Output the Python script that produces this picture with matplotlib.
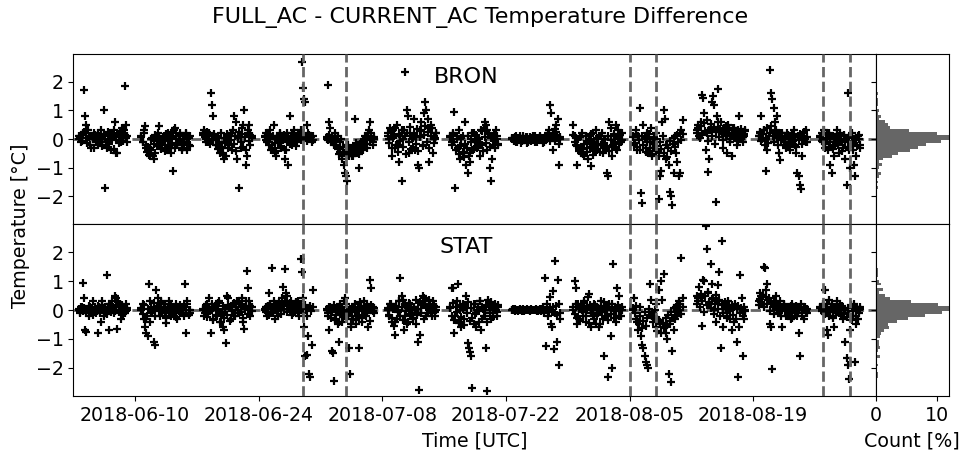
import matplotlib
matplotlib.use("Agg")
import matplotlib.pyplot as plt
import matplotlib.dates as mdates
import numpy as np
import pandas as pd

plt.rcParams.update({'font.size': 13.7})

# start of each measurement week and its length in hours
week_start = ['2018-06-03 15:00', '2018-06-10 17:00', '2018-06-17 17:00', '2018-06-24 17:00',
              '2018-07-01 17:00', '2018-07-08 15:00', '2018-07-15 17:00', '2018-07-22 17:00',
              '2018-07-29 15:00', '2018-08-05 10:00', '2018-08-12 15:00', '2018-08-19 15:00',
              '2018-08-26 15:00']
week_hours = [132, 132, 132, 130, 128, 132, 130, 130, 132, 134, 132, 132, 108]

# FULL_AC - CURRENT_AC, BRON (hourly-ish samples incl. outliers)
bron = [
    [0.0, 0.1, -0.1, 0.2, 1.7, 0.8, 0.5, 0.3, 0.1, -0.2, -0.3, 0.0, 0.2, 0.1, -0.1, -0.2, 0.0, 0.1, 0.3, -0.1,
     1.0, -1.7, -0.2, -0.3, 0.2, 0.1, -0.4, 0.0, 0.3, 0.6, -0.5, -0.5, 0.1, 0.2, -0.1, 0.4, 0.3, 1.85, 0.5, 0.1],
    [0.1, -0.1, 0.3, 0.45, -0.2, -0.4, -0.55, -0.3, 0.0, -0.6, -0.7, -0.5, 0.1, 0.2, 0.45, -0.1, -0.3, 0.0, 0.1, -0.2,
     -0.4, 0.2, 0.0, -0.3, -0.5, -1.1, 0.3, 0.4, 0.0, -0.2, 0.1, 0.2, -0.1, -0.3, 0.0, 0.1, 0.2, -0.4, -0.2, 0.1],
    [0.2, 0.3, 0.0, 0.1, -0.1, 0.2, 1.6, 1.2, 0.8, 0.1, 0.0, -0.2, 0.1, -0.1, 0.2, -0.3, -0.5, -0.7, -0.6, 0.0,
     0.1, -0.2, 0.2, -0.4, 0.3, 0.8, 0.6, -0.7, 0.1, -1.7, -0.3, 0.4, 0.5, 1.0, -0.9, -0.6, 0.3, 0.5, -0.2, 0.1],
    [0.1, 0.2, -0.1, 0.0, 0.3, -0.4, -0.2, 0.5, -0.5, -0.6, 0.1, -0.1, 0.2, -0.3, 0.0, 0.1, -0.7, -0.4, 0.2, -0.9,
     0.8, 0.0, -0.2, 0.1, 0.3, 0.0, -0.1, 0.2, 0.1, 0.3, 2.7, 1.8, 1.4, 1.3, 0.5, 0.2, 0.0, 0.1, -0.1, 0.1],
    [0.0, 1.9, 0.6, 0.4, 0.1, -0.1, 0.0, 0.2, -0.2, 0.1, -0.3, -0.1, 0.0, -0.7, -0.9, -1.2, -1.3, -1.45, -0.6, -0.4,
     -0.5, -0.3, -0.6, 0.7, -0.4, -0.2, -0.5, -1.0, -0.3, -0.1, -0.4, 0.0, 0.1, -0.3, 0.2, 0.3, 0.6, 0.1, -0.2, 0.0],
    [0.2, 0.0, 0.4, -0.6, 0.3, 0.1, -0.3, 0.5, -0.2, -0.8, 0.1, -1.45, 0.0, 0.3, 2.35, 1.0, 0.8, -0.5, 0.2, 0.0,
     -0.3, 0.7, -0.4, 0.1, -0.9, -1.0, 0.3, 0.6, -0.2, 0.9, 1.3, 1.0, 0.7, -0.8, 0.4, 0.5, -0.5, 0.1, 0.0, 0.2],
    [0.1, -0.1, 0.2, 0.95, -1.7, 0.0, -0.3, 0.3, -0.7, -0.2, 0.1, -0.5, 0.6, -0.9, -1.2, -0.6, -0.8, 0.0, -0.4, 0.2,
     -0.1, 0.1, -0.3, 0.0, -0.6, 0.3, -0.2, 0.4, 0.6, 0.5, -0.4, 0.2, -1.0, -1.45, -0.7, 0.1, -0.3, 0.3, 0.0, -0.2],
    [0.0, 0.05, -0.05, 0.1, -0.1, 0.0, 0.05, -0.15, 0.0, 0.1, -0.05, 0.0, 0.08, -0.1, 0.0, 0.05, -0.05, 0.1, 0.0, -0.1,
     0.05, 0.0, -0.05, 0.1, 0.0, -0.15, 0.05, 0.0, 0.1, 0.2, 0.3, 1.2, 0.9, -0.4, 0.1, 0.35, 0.5, 0.7, -0.9, 0.0],
    [0.5, 0.1, -0.2, -0.9, 0.0, -0.4, -0.5, 0.2, -0.3, -0.6, 0.1, -0.1, -0.7, 0.0, -0.95, -0.3, 0.2, -0.1, 0.3, -0.4,
     0.0, 0.1, -0.2, 0.2, -0.5, 0.0, -0.3, -1.2, -1.3, 0.6, 0.4, -0.6, -0.2, 0.1, 0.5, -0.4, 0.3, 0.0, -0.1, 0.2],
    [0.1, -0.2, 0.3, -0.4, 0.1, 1.1, -1.9, -2.25, 0.5, 0.0, -0.3, 0.2, -0.5, -0.1, 0.4, -0.6, -0.3, 0.0, 0.2, -0.4,
     -2.1, -1.3, -1.1, 0.6, 1.0, 0.7, -0.7, -0.2, -0.9, -1.85, -2.0, -2.3, -1.2, 0.1, -0.5, -0.8, -1.3, -1.2, 0.3, 0.65],
    [0.3, 0.5, 0.1, 0.6, 1.55, 1.45, 0.9, -0.4, 0.2, -1.15, -0.7, 0.4, 1.3, 1.5, 1.2, -2.2, 0.8, 1.75, 0.3, 0.6,
     0.2, -0.3, 0.4, 0.1, -0.5, 0.5, 0.3, 0.0, -0.6, 0.2, 0.4, 0.1, -0.2, 0.3, 0.8, 0.0, 0.2, -0.1, 0.1, 0.3],
    [0.1, 0.2, 0.8, 0.0, 0.3, -0.2, -1.1, -0.4, 0.1, 2.4, 1.6, 1.4, 1.1, 0.6, 0.3, 0.8, -0.5, -0.75, 0.2, 0.0,
     -0.2, 0.1, -0.3, 0.2, 0.0, -0.4, 0.1, -0.1, 0.3, -0.2, -0.5, -1.2, -1.3, -1.6, -1.75, -0.6, 0.2, 0.0, 0.3, -0.1],
    [0.1, 0.2, -0.1, 0.3, -0.3, 0.0, -0.4, 0.2, -0.9, -1.2, 0.1, -0.6, -0.2, 0.3, 0.0, -0.5, 0.2, -0.1, -0.3, 0.1,
     -0.7, -1.6, 1.6, -0.4, -1.0, 0.2, -0.2, -0.9, -1.3, -0.6, 0.1, 0.0, -0.2],
]
# BRON, the dense band of each week
bron_core = [
    [0.12, 0.05, -0.08, 0.18, 0.25, 0.02, -0.15, 0.08, -0.22, 0.11, 0.03, -0.31, 0.14, -0.05, 0.21, -0.12, 0.07, -0.26,
     0.16, 0.01, -0.09, 0.23, -0.18, 0.04, 0.13, -0.34, 0.09, -0.02, 0.19, -0.14, 0.27, 0.06, -0.07, 0.15, 0.02, -0.11],
    [0.08, -0.12, 0.21, -0.33, -0.46, -0.28, -0.58, -0.39, 0.04, -0.17, 0.15, -0.24, -0.06, 0.11, -0.35, -0.19, 0.02, -0.41,
     0.17, -0.08, -0.27, 0.06, -0.14, 0.24, -0.31, 0.09, -0.21, -0.03, 0.13, -0.37, 0.01, -0.16, 0.19, -0.09, 0.05, -0.26],
    [0.14, 0.06, -0.09, 0.23, 0.01, -0.16, 0.11, -0.04, 0.18, -0.22, 0.07, -0.35, -0.48, -0.27, -0.56, 0.03, -0.13, 0.16,
     -0.31, 0.09, -0.05, 0.21, -0.19, 0.12, -0.42, 0.04, 0.26, -0.11, 0.17, -0.28, 0.08, -0.38, 0.22, -0.07, 0.15, 0.02],
    [0.07, -0.05, 0.16, -0.21, 0.02, -0.32, 0.11, -0.14, -0.41, 0.05, -0.08, 0.19, -0.26, -0.02, 0.13, -0.37, -0.11, 0.08,
     -0.18, 0.03, 0.21, -0.06, 0.12, -0.24, 0.06, 0.15, -0.03, 0.09, 0.17, 0.04, 0.11, -0.07, 0.14, 0.02, 0.08, -0.04],
    [0.06, -0.04, 0.14, -0.12, 0.03, -0.21, 0.09, -0.08, -0.36, -0.52, -0.44, -0.61, -0.29, -0.48, -0.38, -0.55, -0.22, -0.41,
     -0.33, -0.58, -0.27, -0.46, -0.14, -0.35, -0.51, -0.19, -0.31, -0.07, -0.24, 0.04, -0.16, 0.12, -0.02, 0.21, -0.11, 0.08],
    [0.11, -0.14, 0.26, -0.32, 0.04, 0.38, -0.21, -0.45, 0.17, -0.06, 0.31, -0.27, 0.09, -0.52, 0.22, -0.11, 0.43, -0.36,
     0.02, 0.19, -0.18, 0.35, -0.41, 0.07, 0.28, -0.24, 0.14, 0.47, -0.09, 0.24, -0.33, 0.12, 0.39, -0.15, 0.05, 0.21],
    [0.06, -0.21, 0.18, -0.09, -0.38, 0.12, -0.52, -0.26, 0.03, -0.44, -0.63, -0.17, -0.31, 0.09, -0.48, -0.12, 0.21, -0.36,
     -0.05, 0.14, -0.27, 0.02, -0.19, 0.27, -0.41, 0.08, -0.14, 0.33, 0.16, -0.29, 0.04, -0.22, 0.19, -0.08, 0.11, -0.16],
    [0.03, -0.06, 0.07, -0.11, 0.02, -0.04, 0.09, -0.08, 0.05, -0.02, 0.06, -0.13, 0.01, 0.08, -0.07, 0.04, -0.03, 0.1,
     -0.09, 0.02, 0.06, -0.05, 0.03, -0.12, 0.07, -0.01, 0.04, 0.09, -0.06, 0.12, 0.18, -0.08, 0.24, 0.15, -0.17, 0.06],
    [0.14, -0.11, 0.03, -0.26, -0.42, 0.08, -0.34, -0.52, -0.18, 0.11, -0.47, -0.07, -0.29, 0.16, -0.56, -0.13, -0.38, 0.04,
     -0.22, -0.45, 0.09, -0.16, -0.33, 0.01, -0.24, 0.12, -0.41, -0.05, -0.28, 0.19, -0.12, -0.36, 0.07, -0.19, 0.13, -0.04],
    [0.08, -0.13, 0.19, -0.27, -0.04, -0.38, 0.12, -0.21, 0.02, -0.46, -0.09, 0.16, -0.31, -0.52, -0.17, 0.06, -0.41, -0.26,
     -0.58, -0.12, -0.35, 0.09, -0.48, -0.22, -0.63, -0.31, -0.08, -0.43, -0.18, 0.04, -0.27, 0.13, -0.11, 0.21, -0.03, 0.17],
    [0.21, 0.38, 0.05, 0.46, 0.14, 0.57, 0.29, 0.66, -0.08, 0.33, 0.52, 0.11, 0.42, -0.16, 0.24, 0.61, 0.07, 0.36,
     0.18, -0.04, 0.27, 0.45, 0.09, 0.31, -0.12, 0.19, 0.38, 0.02, 0.26, 0.13, -0.07, 0.22, 0.34, 0.06, 0.16, 0.28],
    [0.09, 0.24, -0.06, 0.17, 0.31, 0.02, 0.38, -0.14, 0.21, 0.46, 0.11, -0.09, 0.27, 0.04, -0.21, 0.15, -0.03, 0.22,
     -0.12, 0.08, -0.26, 0.13, 0.01, -0.17, 0.19, -0.07, 0.06, -0.29, 0.11, -0.04, 0.16, -0.19, 0.03, 0.24, -0.11, 0.07],
    [0.08, -0.06, 0.16, -0.18, 0.03, 0.21, -0.27, -0.09, 0.12, -0.34, 0.05, -0.14, 0.18, -0.22, -0.03, 0.09, -0.41, 0.14,
     -0.11, 0.02, -0.29, 0.07, -0.16, 0.11, -0.37, -0.05, 0.04, -0.23, 0.13, -0.31],
]

# FULL_AC - CURRENT_AC, STAT
stat = [
    [0.0, -0.1, 0.1, 0.95, 0.4, -0.7, -0.75, 0.0, -0.2, 0.1, -0.1, 0.3, 0.0, 0.05, -0.1, -0.8, 0.1, 0.0, -0.4, 0.3,
     -0.2, 0.1, 0.0, 1.2, -0.7, 0.2, 0.1, 0.3, -0.1, 0.5, 0.4, -0.65, 0.0, 0.2, -0.3, 0.1, 0.0, -0.1, 0.2, 0.0],
    [0.0, 0.2, -0.3, -0.6, -0.8, -0.9, 0.9, 0.3, -0.1, 0.0, -1.1, -1.2, 0.7, 0.4, 0.1, -0.2, 0.3, 0.0, 0.2, -0.1,
     -0.45, 0.1, 0.3, 0.0, -0.2, 0.1, -0.1, 0.0, 0.2, -0.3, 0.1, -0.1, 0.0, 0.1, -0.2, 0.9, -0.8, 0.3, 0.0, -0.1],
    [0.0, -0.2, 0.1, 0.2, -0.1, 0.4, -0.8, 0.0, -0.3, 0.1, 0.2, -0.2, 0.0, 0.3, -0.4, -0.1, -0.6, -0.7, -1.15, 0.5,
     0.4, 0.1, -0.3, 0.0, 0.2, -0.2, 0.1, 0.3, 0.0, -0.1, 0.2, 0.4, -0.4, -0.65, 0.1, 1.35, 0.75, 0.3, -0.2, 0.1],
    [0.0, 0.1, -0.2, 0.6, 0.2, -0.1, 1.45, 0.3, -0.3, 0.0, 0.1, -0.2, 0.2, 0.0, 0.4, 0.8, 1.4, 0.6, 0.5, 0.2,
     0.1, 0.3, 0.0, -0.1, 0.2, 0.1, 0.0, 0.3, -0.2, 1.75, 1.3, 0.4, -0.6, -1.6, -1.55, -0.9, -2.2, -2.3, -1.2, 0.7],
    [0.0, -0.2, -0.7, 0.1, -1.4, -1.5, -2.45, -0.3, 0.0, -0.5, -1.1, 0.2, -0.1, -0.4, 0.3, 0.4, -0.2, 0.0, -1.3, -2.2,
     -0.6, 0.1, -0.3, 0.2, -0.5, 0.0, -0.2, -1.3, 0.1, -0.4, 0.0, 0.3, -0.1, 0.2, -0.6, 0.0, 1.05, 0.75, 0.1, -0.1],
    [0.0, -0.2, 0.2, -0.4, 0.1, -0.55, -0.85, -0.3, 0.0, 0.3, 1.1, 0.5, 0.35, -0.7, -0.2, 0.1, -0.4, 0.0, 0.2, -0.1,
     -0.3, 0.1, 0.0, -0.5, -1.1, -2.75, -0.85, 0.2, 0.5, 0.4, 0.3, -0.2, 0.1, 0.0, 0.2, -0.1, 0.3, 0.1, -0.2, 0.0],
    [0.1, 0.75, 0.75, -0.8, -0.2, 0.3, 0.9, -0.4, 0.0, -0.6, 0.2, -0.3, 0.1, 0.5, -1.15, -1.3, -1.45, -1.6, -2.7, -0.5,
     0.2, -0.1, 0.0, -0.4, 0.3, -0.7, 0.1, -0.2, 0.0, -1.3, -2.8, 0.35, 0.2, -0.3, 0.1, -0.1, 0.2, 0.0, -0.2, 0.1],
    [0.0, 0.02, -0.02, 0.0, 0.01, -0.01, 0.0, 0.02, -0.02, 0.0, 0.01, 0.0, -0.01, 0.02, 0.0, -0.02, 0.0, 0.01, -0.01, 0.0,
     0.02, 0.0, -0.03, 0.0, 0.05, -0.05, 0.1, -0.1, 1.1, -1.25, 0.2, -0.2, 0.45, -0.5, -0.6, 0.65, -1.35, 1.7, -1.1, 1.05,
     -1.9, -0.3],
    [0.0, 1.0, 0.75, -0.5, 0.2, -0.3, 0.1, 0.0, -0.2, 0.3, -0.4, 0.1, 0.45, 0.55, -0.6, 0.0, -0.2, 0.2, -0.5, 0.1,
     -0.1, -0.6, 0.3, 0.0, -0.3, -1.6, 0.1, -0.2, -2.3, 0.2, -0.9, -2.0, 1.6, 0.0, -0.4, 0.75, 0.1, 0.5, -0.2, 0.0],
    [0.0, 0.4, -0.3, -0.4, -0.7, 0.1, -0.9, -1.2, -1.3, -1.6, -1.8, -1.9, -2.0, 0.9, 0.35, -0.2, -0.1, 0.0, 0.2, -0.3,
     0.7, -0.4, 1.0, 0.35, 1.25, -0.6, -0.8, -1.0, -2.2, -0.5, -2.5, -1.4, -0.7, -0.3, 0.1, -0.2, 0.3, 0.0, 1.8, 0.4],
    [0.5, 0.3, 0.8, 0.4, -0.55, 1.05, 1.0, 2.9, 2.1, 0.6, 0.2, 1.6, 0.9, 0.4, 0.0, -0.4, 0.3, 0.88, 1.3, -1.3,
     2.4, -0.6, 0.2, 0.1, -0.2, 0.3, 0.0, -0.3, -0.7, 0.1, -0.4, 0.2, -1.1, -2.3, -0.6, 1.2, 0.4, -1.6, -0.3, 0.0],
    [0.3, 0.6, 0.5, 0.2, 1.5, 1.45, 0.7, 0.9, 0.4, -0.5, -0.6, -2.05, 0.3, 0.1, 0.5, 0.2, -0.1, 0.3, 0.0, -0.6,
     0.2, 0.1, -0.2, 0.0, 0.1, -0.1, -0.3, 0.2, 0.0, -0.1, 0.1, -0.2, -0.8, -1.6, 0.2, 0.0, -0.3, 0.1, 0.0, -0.1],
    [0.1, 0.0, 0.2, -0.1, 0.7, -0.7, -0.85, 0.35, 0.0, 0.2, -0.2, -0.6, 0.1, 0.3, 0.0, -0.1, 0.2, 0.1, -0.3, 0.0,
     -1.1, -1.65, -1.9, -2.4, -0.7, 0.1, -0.2, 0.2, -1.8, -0.5, -0.3, 0.0, 0.1],
]
# STAT, the dense band of each week
stat_core = [
    [0.04, -0.07, 0.11, -0.03, 0.08, -0.12, 0.02, 0.15, -0.09, 0.06, -0.16, 0.01, 0.09, -0.05, 0.13, -0.11, 0.03, 0.18,
     -0.02, 0.07, -0.14, 0.05, 0.22, -0.08, 0.12, 0.01, -0.04, 0.16, 0.27, -0.06, 0.09, 0.19, -0.13, 0.04, -0.02, 0.08],
    [0.06, -0.14, 0.18, -0.31, -0.22, 0.03, -0.41, 0.12, -0.08, 0.24, -0.19, 0.07, 0.15, -0.04, 0.29, -0.11, 0.02, 0.21,
     -0.26, 0.09, -0.06, 0.17, -0.15, 0.04, 0.11, -0.23, 0.08, -0.02, 0.19, -0.12, 0.05, 0.13, -0.09, 0.22, -0.17, 0.01],
    [0.03, -0.12, 0.16, -0.24, 0.07, -0.05, 0.21, -0.33, 0.11, -0.18, 0.02, 0.25, -0.41, -0.08, 0.14, -0.29, 0.05, -0.16,
     0.19, -0.37, 0.09, -0.03, 0.23, -0.21, 0.12, -0.11, 0.28, -0.06, 0.17, -0.27, 0.04, 0.31, -0.14, 0.08, 0.15, -0.02],
    [0.05, -0.08, 0.13, -0.16, 0.21, 0.02, -0.11, 0.17, 0.08, -0.04, 0.26, 0.11, -0.13, 0.19, 0.04, 0.31, -0.07, 0.14,
     0.23, 0.01, -0.18, 0.09, 0.16, 0.27, -0.05, 0.12, 0.22, 0.06, -0.09, 0.18, 0.03, -0.21, 0.08, 0.14, -0.03, 0.1],
    [0.04, -0.12, 0.09, -0.27, -0.06, 0.16, -0.35, -0.18, 0.07, -0.42, -0.09, 0.12, -0.24, -0.03, 0.21, -0.31, -0.14, 0.05,
     -0.47, -0.21, 0.11, -0.08, -0.36, 0.02, -0.17, 0.26, -0.29, -0.05, 0.13, -0.22, -0.11, 0.08, -0.38, 0.17, -0.02, 0.06],
    [0.07, -0.16, 0.22, -0.29, 0.03, -0.42, 0.14, -0.08, 0.31, -0.21, 0.09, -0.35, 0.18, -0.04, -0.47, 0.25, -0.13, 0.05,
     -0.26, 0.12, 0.36, -0.18, 0.02, 0.27, -0.09, 0.16, -0.31, 0.21, 0.08, -0.12, 0.33, 0.04, -0.22, 0.15, -0.06, 0.11],
    [0.08, -0.19, 0.24, -0.34, 0.12, -0.07, -0.46, 0.18, -0.23, 0.03, -0.52, 0.15, -0.11, 0.29, -0.38, 0.06, -0.27, 0.21,
     -0.14, -0.58, 0.11, -0.04, 0.32, -0.31, 0.02, -0.21, 0.17, -0.43, 0.09, -0.12, 0.26, -0.25, 0.04, 0.14, -0.08, 0.19],
    [0.01, -0.01, 0.02, 0.0, -0.02, 0.01, 0.0, -0.01, 0.02, -0.02, 0.01, 0.0, -0.01, 0.01, 0.02, -0.01, 0.0, 0.01,
     -0.02, 0.0, 0.01, -0.01, 0.02, 0.0, -0.01, 0.01, 0.0, -0.03, 0.04, -0.06, 0.09, -0.12, 0.14, -0.18, 0.22, -0.09],
    [0.09, -0.14, 0.21, -0.27, 0.04, -0.38, 0.13, -0.06, 0.25, -0.21, 0.08, -0.44, 0.17, -0.11, 0.02, -0.32, 0.19, -0.17,
     0.06, -0.49, 0.14, -0.08, 0.27, -0.24, 0.03, -0.36, 0.11, -0.13, 0.22, -0.29, 0.07, -0.04, 0.16, -0.19, 0.05, 0.12],
    [0.06, -0.12, 0.14, -0.31, -0.48, -0.21, -0.62, -0.37, -0.08, -0.54, -0.26, 0.04, -0.16, -0.09, -0.41, -0.28, -0.58, -0.72,
     -0.35, -0.49, -0.81, -0.44, -0.63, -0.27, -0.52, -0.18, -0.38, -0.07, -0.29, 0.08, -0.19, 0.16, -0.06, 0.22, -0.13, 0.11],
    [0.21, 0.43, 0.12, 0.55, 0.31, -0.06, 0.47, 0.18, 0.62, 0.26, 0.08, 0.39, -0.14, 0.22, 0.51, 0.03, 0.34, -0.21,
     0.16, -0.09, 0.28, 0.05, -0.26, 0.13, -0.04, 0.19, -0.17, 0.09, -0.31, 0.02, 0.14, -0.11, 0.07, -0.22, 0.11, -0.03],
    [0.16, 0.38, 0.27, 0.52, 0.09, 0.44, 0.21, 0.33, -0.05, 0.26, 0.12, -0.14, 0.19, 0.03, -0.09, 0.14, -0.21, 0.07,
     0.18, -0.04, 0.11, -0.16, 0.02, 0.13, -0.27, 0.06, -0.08, 0.15, -0.12, 0.04, 0.09, -0.19, 0.01, 0.12, -0.06, 0.03],
    [0.07, -0.05, 0.15, -0.14, 0.02, 0.22, -0.21, -0.07, 0.11, -0.28, 0.04, -0.12, 0.17, -0.03, 0.08, -0.18, 0.13, -0.09,
     0.01, -0.24, 0.06, -0.15, 0.19, -0.33, -0.04, 0.09, -0.19, 0.03, -0.11, 0.05],
]

event_dates = ['2018-06-29 00:00', '2018-07-03 22:00', '2018-08-05 00:00', '2018-08-08 01:00',
               '2018-08-26 22:00', '2018-08-29 22:00']
tick_dates = ['2018-06-10', '2018-06-24', '2018-07-08', '2018-07-22', '2018-08-05', '2018-08-19']
panel_names = ['BRON', 'STAT']


def week_times(i, n):
    t0 = pd.Timestamp(week_start[i])
    return [t0 + pd.Timedelta(hours=h) for h in np.linspace(0, week_hours[i], n)]


fig = plt.figure(figsize=(9.61, 4.57), dpi=100)
left, mid, right, hright = 0.0763, 0.5098, 0.9112, 0.9875
top, bottom = 0.8818, 0.1335
gray = '#666666'
edges = np.arange(-3.05, 3.06, 0.1)
ylim = (-2.97, 2.97)

for row, (name, series, core) in enumerate(zip(panel_names, [bron, stat], [bron_core, stat_core])):
    if row == 0:
        y0, h = mid, top - mid
    else:
        y0, h = bottom, mid - bottom
    ax = fig.add_axes([left, y0, right - left, h])
    axh = fig.add_axes([right, y0, hright - right, h])

    allv = []
    for i in range(len(series)):
        for vals in (core[i], series[i]):
            ax.plot(week_times(i, len(vals)), vals, '+', color='black', ms=5.5, mew=1.6, zorder=3)
            allv += vals
    ax.axhline(0, color=gray, ls='--', lw=2, zorder=2)
    for d in event_dates:
        ax.axvline(pd.Timestamp(d), color=gray, ls='--', lw=2, zorder=4)

    ax.set_xlim(pd.Timestamp('2018-06-03 00:00'), pd.Timestamp('2018-09-01 21:00'))
    ax.set_ylim(ylim)
    ax.set_yticks([-2, -1, 0, 1, 2])
    ax.set_xticks([pd.Timestamp(d) for d in tick_dates])
    ax.xaxis.set_major_formatter(mdates.DateFormatter('%Y-%m-%d'))
    ax.text(0.49, 0.865, name, transform=ax.transAxes, ha='center', va='center', fontsize=16)

    allv = np.array(allv)
    axh.hist(allv, bins=edges, orientation='horizontal', weights=np.full(len(allv), 100 / len(allv)),
             color=gray)
    axh.set_ylim(ylim)
    axh.set_xlim(0, 12)
    axh.set_yticks([-2, -1, 0, 1, 2])
    axh.set_yticklabels([])
    axh.set_xticks([0, 10])

    if row == 0:
        ax.tick_params(axis='x', length=0, labelbottom=False)
        axh.tick_params(axis='x', length=0, labelbottom=False)

fig.text(0.5, 0.962, 'FULL_AC - CURRENT_AC Temperature Difference', ha='center', va='center', fontsize=16)
fig.text(0.021, 0.505, 'Temperature [°C]', rotation=90, ha='center', va='center')
fig.text(0.494, 0.035, 'Time [UTC]', ha='center', va='center')
fig.text(0.949, 0.035, 'Count [%]', ha='center', va='center')

fig.savefig('out.png', dpi=100)
